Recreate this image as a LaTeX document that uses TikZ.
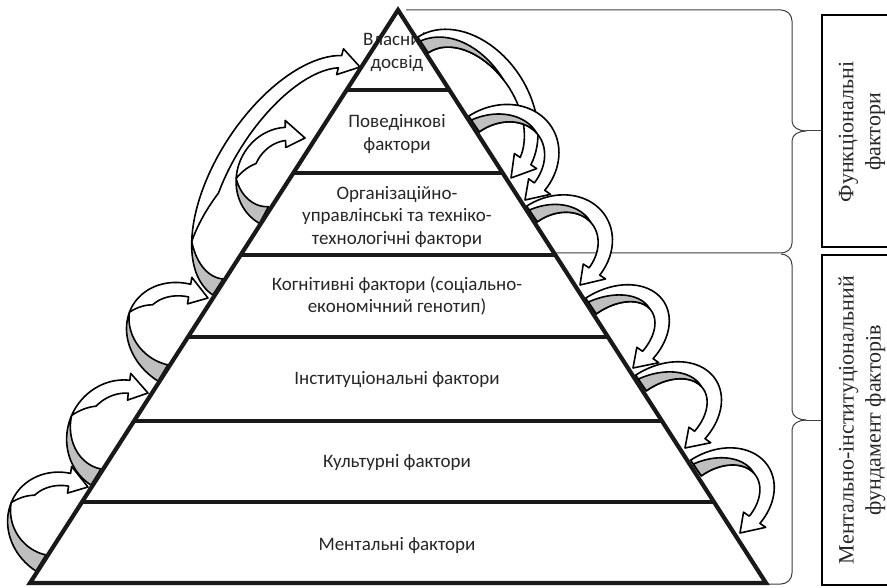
\documentclass[tikz,border=0pt]{standalone}
\usepackage{fontspec}
\setmainfont{Carlito}
\newfontfamily\boxserif{Liberation Serif}
\def\arWa{9.5}
\def\arWb{6}
\def\arB{7}
\newcommand\crvarrow[8]{%
  \pgfmathsetmacro\arDx{#3-#1}%
  \pgfmathsetmacro\arDy{#2-#4}%
  \pgfmathsetmacro\arA{veclen(\arDx,\arDy)/2}%
  \pgfmathsetmacro\arAng{atan2(\arDy,\arDx)}%
  \pgfmathsetmacro\arH{#5}%
  \pgfmathsetmacro\arTe{(#8)*57.2958/\arH}%
  \pgfmathsetmacro\arTg{#7}%
  \pgfmathsetmacro\arTb{#7-25}%
  \begin{scope}[shift={(#1,-#2)},rotate=\arAng]
  \ifnum#6=0
    \filldraw[arw] plot[variable=\t,domain=180:\arTe,samples=40] ({ex(\t,hw(\t))},{ey(\t,hw(\t))})
      -- ({ex(\arTe,hw(\arTe)+\arB)},{ey(\arTe,hw(\arTe)+\arB)})
      -- ({2*\arA},0)
      -- ({ex(\arTe,-hw(\arTe)-\arB)},{ey(\arTe,-hw(\arTe)-\arB)})
      -- plot[variable=\t,domain=\arTe:180,samples=40] ({ex(\t,-hw(\t))},{ey(\t,-hw(\t))})
      -- cycle;
    \filldraw[arg] plot[variable=\t,domain=180:\arTg,samples=30] ({ex(\t,-hw(\t)+1.5*hw(\t)*(\t-\arTg)/(180-\arTg))},{ey(\t,-hw(\t)+1.5*hw(\t)*(\t-\arTg)/(180-\arTg))})
      -- plot[variable=\t,domain=\arTg:180,samples=30] ({ex(\t,-hw(\t))},{ey(\t,-hw(\t))})
      -- cycle;
  \else
    \filldraw[arg] plot[variable=\t,domain=180:\arTg,samples=30] ({ex(\t,hw(\t))},{ey(\t,hw(\t))})
      -- plot[variable=\t,domain=\arTg:180,samples=30] ({ex(\t,hw(\t)-2*hw(\t)*(\t-\arTg)/(180-\arTg))},{ey(\t,hw(\t)-2*hw(\t)*(\t-\arTg)/(180-\arTg))})
      -- cycle;
    \filldraw[arw] plot[variable=\t,domain=\arTg:\arTe,samples=40] ({ex(\t,hw(\t))},{ey(\t,hw(\t))})
      -- ({ex(\arTe,hw(\arTe)+\arB)},{ey(\arTe,hw(\arTe)+\arB)})
      -- ({2*\arA},0)
      -- ({ex(\arTe,-hw(\arTe)-\arB)},{ey(\arTe,-hw(\arTe)-\arB)})
      -- plot[variable=\t,domain=\arTe:\arTb,samples=25] ({ex(\t,-hw(\t))},{ey(\t,-hw(\t))})
      -- plot[variable=\t,domain=\arTb:\arTg,samples=25] ({ex(\t,-hw(\t)+2*hw(\t)*(\t-\arTb)/(\arTg-\arTb))},{ey(\t,-hw(\t)+2*hw(\t)*(\t-\arTb)/(\arTg-\arTb))})
      -- cycle;
  \fi
  \end{scope}}
\begin{document}
\begin{tikzpicture}[x=1pt,y=1pt,
  declare function={
    hw(\x)=\arWb+(\arWa-\arWb)*\x/180;
    ex(\x,\y)=\arA+(\arA+\y)*cos(\x);
    ey(\x,\y)=(\arH+\y)*sin(\x);
  },
  arw/.style={fill=white,draw=black,line width=1.6pt,line join=round},
  arg/.style={fill=gray!50,draw=black,line width=1.6pt,line join=round},
  lay/.style={align=center,font=\fontsize{19}{22.5}\selectfont,text=black!85,inner sep=0pt},
  boxt/.style={align=center,font=\boxserif\fontsize{22}{27}\selectfont,text=black!85,inner sep=0pt},
  brace/.style={draw=black!75,line width=1pt},
  pyr/.style={line width=4.2pt,line join=miter,draw=black!90},
  layline/.style={line width=4.8pt,draw=black!90}]
\useasboundingbox (0,0) rectangle (887,-588);
\clip (0,0) rectangle (887,-588);
\fill[white] (0,0) rectangle (887,-588);
% layer texts
\node[lay] (t1) at (397,-52) {Власний\\досвід};
\node[lay] (t2) at (397,-134) {Поведінкові\\фактори};
\node[lay] (t3) at (397,-217) {Організаційно-\\управлінські та техніко-\\технологічні фактори};
\node[lay] (t4) at (397,-296) {Когнітивні фактори (соціально-\\економічний генотип)};
\node[lay] (t5) at (397,-380) {Інституціональні фактори};
\node[lay] (t6) at (397,-463) {Культурні фактори};
\node[lay] (t7) at (397,-546) {Ментальні фактори};
% braces
\coordinate (b0) at (406,-10);
\coordinate (b1) at (555,-253);
\coordinate (b2) at (766,-584);
\draw[brace] (b0) -- (781,-10) to[out=0,in=90] (792,-21) -- (792,-121) to[out=-90,in=180] (806,-131);
\draw[brace] (806,-131) to[out=180,in=90] (792,-141) -- (792,-243) to[out=-90,in=0] (781,-253) -- (b1);
\draw[brace] (806,-131) -- (822,-131);
\draw[brace] (781,-254) to[out=0,in=90] (792,-265) -- (792,-410) to[out=-90,in=180] (806,-420);
\draw[brace] (806,-420) to[out=180,in=90] (792,-430) -- (792,-573) to[out=-90,in=0] (781,-584) -- (b2);
\draw[brace] (806,-420) -- (822,-420);
% boxes
\draw[line width=2.5pt] (822,-15) rectangle (905,-247);
\draw[line width=2.5pt] (822,-255) rectangle (905,-585);
\node[boxt,rotate=90] (f1) at (862,-132) {Функціональні\\фактори};
\node[boxt,rotate=90] (f2) at (862,-420) {Ментально-інституціональний\\фундамент факторів};
% right arrows
\crvarrow{423}{45}{511}{178}{56}{0}{95}{22}
\crvarrow{474}{124}{525}{200}{55}{0}{95}{20}
\crvarrow{532}{214}{580}{285}{52}{0}{95}{20}
\crvarrow{591}{306}{633}{368}{55}{0}{95}{20}
\crvarrow{641}{383}{685}{448}{56}{0}{95}{20}
\crvarrow{696}{468}{740}{533}{53}{0}{95}{20}
% left arrows
\crvarrow{41}{563}{88}{487}{50}{1}{100}{20}
\crvarrow{96}{477}{148}{393}{46}{1}{100}{20}
\crvarrow{163}{373}{208}{298}{53}{1}{100}{20}
\crvarrow{218}{287}{360}{67}{64}{1}{140}{20}
\crvarrow{264}{215}{305}{138}{39}{1}{118}{20}
% pyramid
\coordinate (pl) at (30,-583);
\coordinate (pa) at (398,-10);
\coordinate (pr) at (766,-583);
\draw[pyr] (pl) -- (pa) -- (pr) -- cycle;
\foreach \yy in {90,173,255,337,421,502}
  \draw[layline] ({398-0.6425*(\yy-10)},-\yy) -- ({398+0.645*(\yy-10)},-\yy);
\end{tikzpicture}
\end{document}
